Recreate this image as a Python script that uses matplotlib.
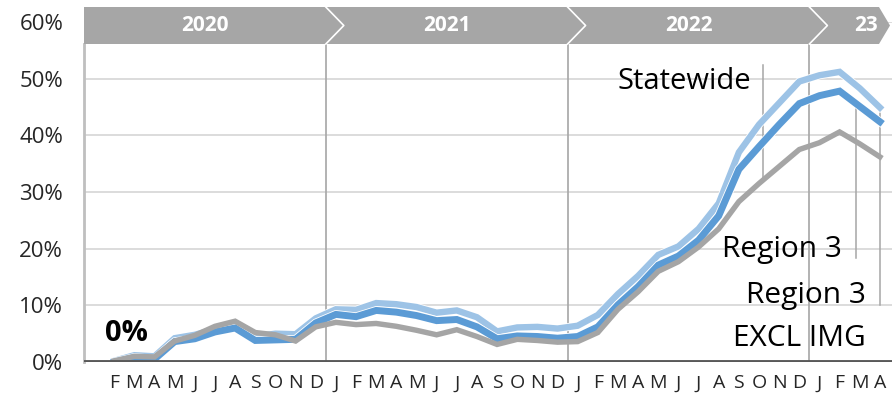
import matplotlib
matplotlib.use("Agg")
import matplotlib.pyplot as plt
import matplotlib.patheffects as pe
from matplotlib.patches import Polygon
import numpy as np

plt.rcParams['font.family'] = ['Open Sans', 'DejaVu Sans']

# Month initials, Feb 2020 through Apr 2023
month_labels = (['F', 'M', 'A', 'M', 'J', 'J', 'A', 'S', 'O', 'N', 'D']
                + ['J', 'F', 'M', 'A', 'M', 'J', 'J', 'A', 'S', 'O', 'N', 'D'] * 2
                + ['J', 'F', 'M', 'A'])
years = ['2020', '2021', '2022', '23']
months_in_year = [11, 12, 12, 4]

# Year-over-year change, percent
statewide = [0.2, 1.2, 1.0, 4.2, 4.8, 5.8, 6.7, 4.5, 5.0, 4.9, 7.7,
             9.3, 9.2, 10.4, 10.2, 9.7, 8.7, 9.1, 7.9, 5.4, 6.1, 6.2, 5.9,
             6.4, 8.3, 12.0, 15.2, 18.9, 20.4, 23.5, 28.0, 37.0, 41.9, 45.7, 49.5,
             50.6, 51.2, 48.3, 44.9]
region3 = [0.0, 0.8, 0.5, 3.6, 4.1, 5.3, 6.0, 3.8, 3.9, 4.0, 6.9,
           8.4, 8.0, 9.1, 8.8, 8.2, 7.3, 7.5, 6.2, 4.1, 4.6, 4.5, 4.2,
           4.5, 6.2, 10.1, 13.3, 17.1, 18.7, 21.5, 25.8, 34.0, 38.0, 41.9, 45.6,
           47.0, 47.8, 45.1, 42.4]
region3_excl = [0.2, 1.0, 0.9, 3.7, 4.7, 6.3, 7.2, 5.2, 4.8, 3.7, 6.2,
                7.0, 6.6, 6.8, 6.3, 5.6, 4.8, 5.7, 4.5, 3.1, 4.0, 3.8, 3.5,
                3.6, 5.2, 9.3, 12.4, 16.0, 17.7, 20.3, 23.5, 28.3, 31.5, 34.5, 37.5,
                38.7, 40.6, 38.5, 36.2]

C_LIGHT = '#9DC3E6'
C_BLUE = '#5B9BD5'
C_GREY = '#A5A5A5'
BANNER = '#A6A6A6'

W, H = 892, 397
fig = plt.figure(figsize=(W / 100, H / 100), dpi=100)

# axes box in pixel terms: left spine at x=84, 0% at y=362, 60% at y=22
px_left, px_right, px_zero, px_top = 84, 892, 362, 22
ax = fig.add_axes([px_left / W, (H - px_zero) / H,
                   (px_right - px_left) / W, (px_zero - px_top) / H])

x = np.arange(len(month_labels))
x_lo, x_hi = -1.5, 38.6
ax.set_xlim(x_lo, x_hi)
ax.set_ylim(0, 60)

# horizontal gridlines
for v in range(10, 61, 10):
    ax.axhline(v, color='#D9D9D9', lw=1.3, zorder=1)

# year boundaries
bounds = np.cumsum(months_in_year)[:-1] - 0.5
banner_bottom_val = (px_zero - 44) / (px_zero - px_top) * 60
for b in bounds:
    ax.plot([b, b], [0, banner_bottom_val], color='#A6A6A6', lw=1.2, zorder=1)
ax.plot([x_lo, x_lo], [0, banner_bottom_val], color='#BFBFBF', lw=2.0, zorder=1,
        clip_on=False)

# series
ax.plot(x, statewide, color=C_LIGHT, lw=4.6, solid_joinstyle='miter', zorder=3,
        path_effects=[pe.Stroke(linewidth=5.8, foreground='white'), pe.Normal()])
ax.plot(x, region3, color=C_BLUE, lw=5.0, solid_joinstyle='miter', zorder=4,
        path_effects=[pe.Stroke(linewidth=6.2, foreground='white'), pe.Normal()])
ax.plot(x, region3_excl, color=C_GREY, lw=3.9, solid_joinstyle='miter', zorder=5)

# zero axis
ax.axhline(0, color='#595959', lw=2.8, zorder=6)

for s in ax.spines.values():
    s.set_visible(False)

ax.set_yticks(range(0, 61, 10))
ax.set_yticklabels([f'{v}%' for v in range(0, 61, 10)], fontsize=16, color='#262626')
ax.tick_params(axis='y', length=0, pad=15)
ax.set_xticks(x)
ax.set_xticklabels(month_labels, fontsize=14, color='#262626')
ax.tick_params(axis='x', length=0, pad=9)

# callout leader lines
for lx, y0, y1 in [(32.2, 52.5, 32.5), (36.8, 45.4, 18.4), (38.0, 45.2, 10.1)]:
    ax.plot([lx, lx], [y0, y1], color='#A6A6A6', lw=1.1, zorder=2)

ax.text(31.6, 49.5, 'Statewide', ha='right', va='center', fontsize=21, color='black', zorder=7)
ax.text(36.1, 19.8, 'Region 3', ha='right', va='center', fontsize=21.5, color='black', zorder=7)
ax.text(37.3, 11.8, 'Region 3', ha='right', va='center', fontsize=21.5, color='black', zorder=7)
ax.text(37.3, 4.1, 'EXCL IMG', ha='right', va='center', fontsize=21.5, color='black', zorder=7)
ax.text(-0.45, 5.1, '0%', ha='left', va='center', fontsize=21, fontweight='bold',
        color='black', zorder=7)

# year banner drawn in pixel coordinates of the figure
def fx(xd):
    return px_left + (xd - x_lo) / (x_hi - x_lo) * (px_right - px_left)

bt, bb = 7, 44
bm = (bt + bb) / 2
tip_end = 890
flat_end = 879
pts = [(px_left, bt), (flat_end, bt), (tip_end, bm), (flat_end, bb), (px_left, bb)]
poly = Polygon([(px / W, 1 - py / H) for px, py in pts], closed=True,
               transform=fig.transFigure, facecolor=BANNER, edgecolor='none', zorder=10)
fig.add_artist(poly)
for b in bounds:
    bx = fx(b)
    chev = [(bx, bt), (bx + 18, bm), (bx, bb)]
    fig.add_artist(plt.Line2D([p[0] / W for p in chev], [1 - p[1] / H for p in chev],
                              transform=fig.transFigure, color='white', lw=1.2, zorder=11))

edges = [x_lo] + list(bounds)
centers = [fx((edges[i] + edges[i + 1]) / 2) for i in range(3)] + [866]
for yr, cx in zip(years, centers):
    fig.text(cx / W, 1 - bm / H, yr, ha='center', va='center', color='white',
             fontsize=15, fontweight='bold', zorder=12)

fig.savefig('out.png', dpi=100)
